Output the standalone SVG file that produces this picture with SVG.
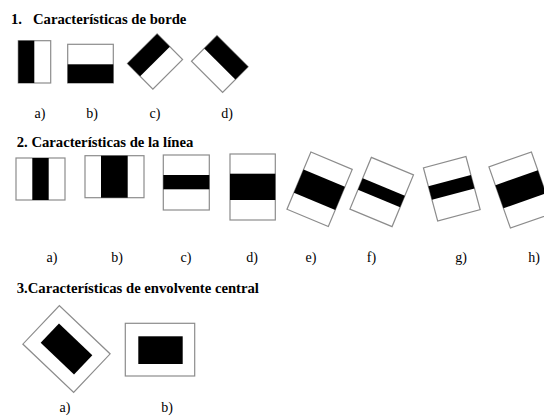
<svg xmlns="http://www.w3.org/2000/svg" width="544" height="420" viewBox="0 0 544 420">
  <style>
    .frame { fill: #ffffff; stroke: #8c8c8c; stroke-width: 1.2; }
    .dark { fill: #000000; }
    text { font-family: "Liberation Serif", "DejaVu Serif", "Times New Roman", serif; fill: #000; }
    .head { font-weight: bold; font-size: 14.7px; }
    .lab { font-size: 14px; text-anchor: middle; }
  </style>
  <rect width="544" height="420" fill="#ffffff"/>

  <!-- 1. Edge features -->
  <g id="section1">
    <text class="head" x="11" y="24">1.</text>
    <text class="head" x="33" y="24">Características de borde</text>
    <g id="edge-a">
      <rect class="frame" x="18.3" y="40.7" width="32.4" height="42.3"/>
      <rect class="dark" x="18.3" y="40.7" width="16" height="42.3"/>
    </g>
    <g id="edge-b">
      <rect class="frame" x="67.7" y="44.3" width="45.6" height="38.7"/>
      <rect class="dark" x="67.7" y="64.3" width="45.6" height="18.7"/>
    </g>
    <g id="edge-c" transform="translate(155 61.5) rotate(45)">
      <rect class="frame" x="-18" y="-21" width="36" height="42"/>
      <rect class="dark" x="-18" y="-21" width="18" height="42"/>
    </g>
    <g id="edge-d" transform="translate(219.8 64) rotate(45)">
      <rect class="frame" x="-22" y="-18" width="44" height="36"/>
      <rect class="dark" x="-22" y="-18" width="44" height="18"/>
    </g>
    <text class="lab" x="40" y="118">a)</text>
    <text class="lab" x="92" y="118">b)</text>
    <text class="lab" x="155" y="118">c)</text>
    <text class="lab" x="227" y="118">d)</text>
  </g>

  <!-- 2. Line features -->
  <g id="section2">
    <text class="head" x="16.7" y="146.7">2. Características de la línea</text>
    <g id="line-a">
      <rect class="frame" x="16" y="158" width="49" height="42"/>
      <rect class="dark" x="32.3" y="158" width="16.4" height="42"/>
    </g>
    <g id="line-b">
      <rect class="frame" x="85" y="155.7" width="59" height="42"/>
      <rect class="dark" x="101" y="155.7" width="26.7" height="42"/>
    </g>
    <g id="line-c">
      <rect class="frame" x="163.3" y="155" width="46" height="55"/>
      <rect class="dark" x="163.3" y="175" width="46" height="14.3"/>
    </g>
    <g id="line-d">
      <rect class="frame" x="230" y="154" width="45.3" height="66"/>
      <rect class="dark" x="230" y="173.7" width="45.3" height="26.3"/>
    </g>
    <g id="line-e" transform="translate(319.6 189.3) rotate(22.7)">
      <rect class="frame" x="-22.4" y="-31" width="44.8" height="62"/>
      <rect class="dark" x="-22.4" y="-12" width="44.8" height="25"/>
    </g>
    <g id="line-f" transform="translate(381.7 192) rotate(22.5)">
      <rect class="frame" x="-22.8" y="-28" width="45.6" height="56"/>
      <rect class="dark" x="-22.8" y="-5.5" width="45.6" height="12.5"/>
    </g>
    <g id="line-g" transform="translate(451.8 188.8) rotate(-15)">
      <rect class="frame" x="-22" y="-27.5" width="44" height="55"/>
      <rect class="dark" x="-22" y="-8.5" width="44" height="14"/>
    </g>
    <g id="line-h" transform="translate(520.9 190) rotate(-19.3)">
      <rect class="frame" x="-22.5" y="-32.5" width="45" height="65"/>
      <rect class="dark" x="-22.5" y="-13" width="45" height="24.5"/>
    </g>
    <text class="lab" x="52" y="262">a)</text>
    <text class="lab" x="117" y="262">b)</text>
    <text class="lab" x="186" y="262">c)</text>
    <text class="lab" x="252" y="262">d)</text>
    <text class="lab" x="311" y="262">e)</text>
    <text class="lab" x="371.5" y="262">f)</text>
    <text class="lab" x="461" y="262">g)</text>
    <text class="lab" x="534" y="262">h)</text>
  </g>

  <!-- 3. Center-surround features -->
  <g id="section3">
    <text class="head" x="16.7" y="293.3">3.Características de envolvente central</text>
    <g id="center-a" transform="translate(66.5 349) rotate(43.5)">
      <rect class="frame" x="-35" y="-26.5" width="70" height="53"/>
      <rect class="dark" x="-23" y="-13.3" width="46" height="26.6"/>
    </g>
    <g id="center-b">
      <rect class="frame" x="125.3" y="323.3" width="69.4" height="52.7"/>
      <rect class="dark" x="138.3" y="336.3" width="44.4" height="27.7"/>
    </g>
    <text class="lab" x="65" y="412">a)</text>
    <text class="lab" x="167" y="412">b)</text>
  </g>
</svg>
